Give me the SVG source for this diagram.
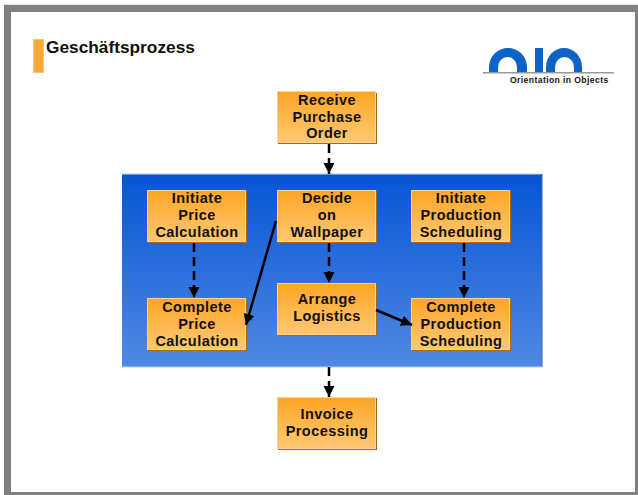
<svg xmlns="http://www.w3.org/2000/svg" width="638" height="495" viewBox="0 0 638 495">
<style>
text{font-family:"Liberation Sans",Arial,sans-serif;font-weight:bold;fill:#111}
.n text{font-size:14.5px;text-anchor:middle;letter-spacing:.45px}
.b{fill:url(#o);stroke:#ffd29a;stroke-width:1}
.s{fill:#a8690f}
.d,.l{stroke:#000;stroke-width:2.500;fill:none}
.d{stroke-dasharray:9 5}
</style>
<defs>
<linearGradient id="o" x1="0" y1="0" x2="0" y2="1"><stop offset="0" stop-color="#ffa526"/><stop offset="1" stop-color="#ffc873"/></linearGradient>
<linearGradient id="p" x1="0" y1="0" x2="0" y2="1"><stop offset="0" stop-color="#0755d6"/><stop offset="1" stop-color="#5089e2"/></linearGradient>
<marker id="a" markerUnits="userSpaceOnUse" markerWidth="14" markerHeight="14" refX="11" refY="6" orient="auto"><path d="M0 0.500L11 6L0 11.500Z" fill="#000"/></marker>
</defs>
<rect width="638" height="495" fill="#fff"/>
<rect x="4" y="4" width="634" height="491" fill="#e6e6e6"/>
<rect x="4" y="5" width="634" height="490" fill="#808080"/>
<rect x="11" y="12" width="624" height="480" fill="#fff"/>
<g id="title">
<rect x="33.500" y="39.500" width="10" height="33" fill="#f9a83c" stroke="#ffc070"/>
<text x="46" y="52.500" font-size="17.300">Geschäftsprozess</text>
</g>
<g id="logo">
<path d="M489 72V67A19 19 0 0 1 527 67V72H517V67A9.500 10 0 0 0 498 67V72Z" fill="#0d64c6"/>
<rect x="535" y="48" width="8" height="24" fill="#0d64c6"/>
<path d="M546 72V67A18 19 0 0 1 582 67V72H574V67A9.500 10 0 0 0 555 67V72Z" fill="#0d64c6"/>
<rect x="483" y="72" width="131" height="1.500" fill="#999"/>
<text x="510" y="83" font-size="8.600" letter-spacing=".4" fill="#222">Orientation in Objects</text>
</g>
<g id="panel">
<rect x="122" y="174" width="420" height="193" fill="url(#p)"/>
<path d="M122 174H542" stroke="#c4d4f0"/>
<path d="M122 367H542" stroke="#b8cdf0"/>
<path d="M542 174V367" stroke="#3a66b8"/>
</g>
<g id="receive" class="n"><rect class="s" x="278" y="93" width="99" height="51"/><rect class="b" x="277.500" y="91.500" width="98" height="51"/><text x="327" y="105">Receive</text><text x="327" y="122">Purchase</text><text x="327" y="138">Order</text></g>
<g id="init-price" class="n"><rect class="s" x="148" y="191" width="99" height="52"/><rect class="b" x="147.500" y="190.500" width="98" height="51"/><text x="197" y="203">Initiate</text><text x="197" y="220">Price</text><text x="197" y="237">Calculation</text></g>
<g id="decide" class="n"><rect class="s" x="278" y="191" width="99" height="52"/><rect class="b" x="277.500" y="190.500" width="98" height="51"/><text x="327" y="203">Decide</text><text x="327" y="220">on</text><text x="327" y="237">Wallpaper</text></g>
<g id="init-prod" class="n"><rect class="s" x="412" y="191" width="99" height="52"/><rect class="b" x="411.500" y="190.500" width="98" height="51"/><text x="461" y="203">Initiate</text><text x="461" y="220">Production</text><text x="461" y="237">Scheduling</text></g>
<g id="comp-price" class="n"><rect class="s" x="148" y="299" width="99" height="52"/><rect class="b" x="147.500" y="298.500" width="98" height="51"/><text x="197" y="312">Complete</text><text x="197" y="329">Price</text><text x="197" y="346">Calculation</text></g>
<g id="arrange" class="n"><rect class="s" x="278" y="284" width="99" height="52"/><rect class="b" x="277.500" y="283.500" width="98" height="51"/><text x="327" y="304">Arrange</text><text x="327" y="321">Logistics</text></g>
<g id="comp-prod" class="n"><rect class="s" x="412" y="299" width="99" height="52"/><rect class="b" x="411.500" y="298.500" width="98" height="51"/><text x="461" y="312">Complete</text><text x="461" y="329">Production</text><text x="461" y="346">Scheduling</text></g>
<g id="invoice" class="n"><rect class="s" x="278" y="398" width="99" height="52"/><rect class="b" x="277.500" y="397.500" width="98" height="51"/><text x="327" y="419">Invoice</text><text x="327" y="436">Processing</text></g>
<g id="connectors">
<path class="d" d="M329 144V174" marker-end="url(#a)"/>
<path class="d" d="M194 243V298" marker-end="url(#a)"/>
<path class="d" d="M329 243V283" marker-end="url(#a)"/>
<path class="d" d="M464 243V298" marker-end="url(#a)"/>
<path class="d" d="M329 367V397" marker-end="url(#a)"/>
<path class="l" d="M276 221L246 325" marker-end="url(#a)"/>
<path class="l" d="M376 310L412 325" marker-end="url(#a)"/>
</g>
</svg>
